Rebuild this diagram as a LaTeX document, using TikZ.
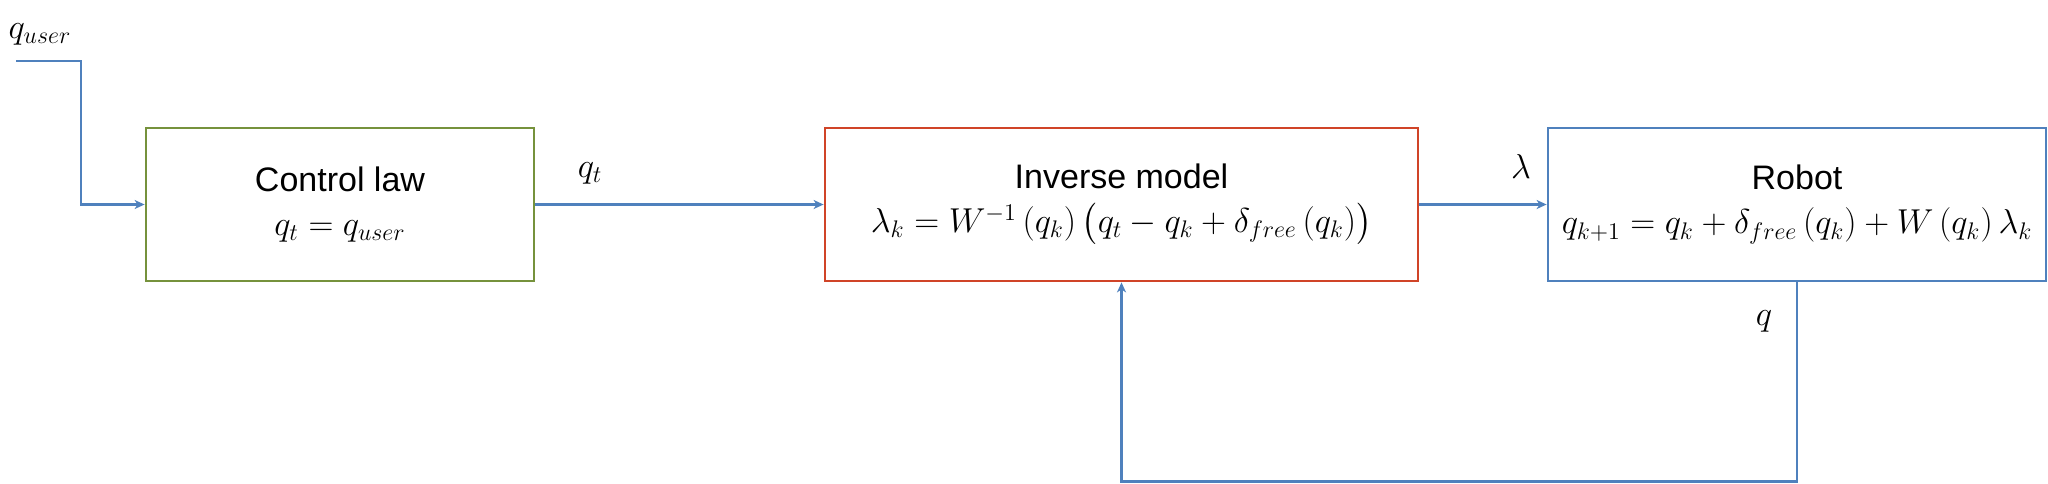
\documentclass[tikz,border=0pt]{standalone}
\usepackage{amsmath}
\usepackage[no-math]{fontspec}
\setmainfont{Liberation Sans}
\usetikzlibrary{arrows.meta,calc}
\definecolor{cgreen}{RGB}{118,146,60}
\definecolor{cred}{RGB}{208,68,40}
\definecolor{cblue}{RGB}{79,129,189}
\newcommand{\fml}[1]{{\fontsize{16.5}{20}\selectfont$#1$}}
\begin{document}
\begin{tikzpicture}[x=0.5pt,y=-0.5pt,
  blockbox/.style={draw,line width=1.4pt,minimum height=76.5pt,inner sep=0pt,align=center,
    font=\fontsize{17}{21}\selectfont},
  conn/.style={draw=cblue,line width=1.2pt},
  arr/.style={conn,-{Stealth[length=5pt,width=4.5pt,inset=1.5pt]}},
  lbl/.style={font=\fontsize{17.5}{20}\selectfont,inner sep=0pt}]
\useasboundingbox (0,0) rectangle (2048,483);
\node[blockbox,draw=cgreen,minimum width=194pt] (ctrl) at (340,204.5)
  {Control law\\[1pt] \fml{q_t = q_{user}}};
\node[blockbox,draw=cred,minimum width=296.5pt] (inv) at (1121.5,204.5)
  {Inverse model\\[1pt] \fml{\lambda_k = W^{-1}\,(q_k)\,\bigl(q_t - q_k + \delta_{free}\,(q_k)\bigr)}};
\node[blockbox,draw=cblue,minimum width=249pt] (robot) at (1797,204.5)
  {Robot\\[1pt] \fml{q_{k+1} = q_k + \delta_{free}\,(q_k) + W\,(q_k)\,\lambda_k}};
\coordinate (in) at (16,60.7);
\coordinate (inbend) at (81,60.7);
\coordinate (fbr) at (1797,481.5);
\draw[arr] (in) -- (inbend) |- (ctrl.west);
\draw[arr] (ctrl.east) -- (inv.west);
\draw[arr] (inv.east) -- (robot.west);
\draw[arr] (robot.south) -- (fbr) -| (inv.south);
\node[lbl] (quser) at (40,34) {$q_{user}$};
\node[lbl] (qt) at (590,173) {$q_t$};
\node[lbl] (lam) at (1521,166) {$\lambda$};
\node[lbl] (q) at (1764,321) {$q$};
\end{tikzpicture}
\end{document}
